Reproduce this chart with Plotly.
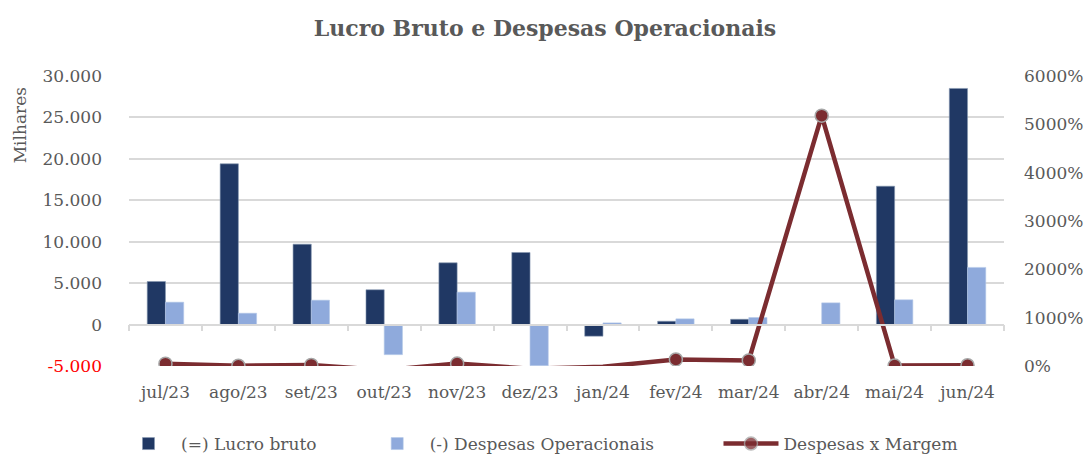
import plotly.graph_objects as go

categories = ["jul/23", "ago/23", "set/23", "out/23", "nov/23", "dez/23",
              "jan/24", "fev/24", "mar/24", "abr/24", "mai/24", "jun/24"]
lucro_bruto = [5200, 19400, 9700, 4200, 7450, 8700, -1400, 400, 640, 0, 16700, 28500]
despesas_op = [2700, 1370, 2940, -3630, 3910, -4960, 200, 690, 850, 2620, 2990, 6900]
despesas_x_margem = [48, 6, 22, -86, 50, -57, -14, 135, 115, 5180, 10, 16]

left_ticks = [-5000, 0, 5000, 10000, 15000, 20000, 25000, 30000]
left_ticktext = ["<span style='color:#FF0000'>-5.000</span>", "0", "5.000", "10.000",
                 "15.000", "20.000", "25.000", "30.000"]
right_ticks = [0, 1000, 2000, 3000, 4000, 5000, 6000]
right_ticktext = ["0%", "1000%", "2000%", "3000%", "4000%", "5000%", "6000%"]

FONT = "DejaVu Serif"
GRAY = "#595959"
FS = 17
NB = "\u00a0"

# Excel hides markers of points falling below the axis minimum
marker_opacity = [1 if v >= 0 else 0 for v in despesas_x_margem]

fig = go.Figure()
fig.add_trace(go.Bar(x=categories, y=lucro_bruto, name="(=) Lucro bruto" + NB * 8,
                     marker=dict(color="#203864", line=dict(color="#8497b0", width=0.6))))
fig.add_trace(go.Bar(x=categories, y=despesas_op, name="(-) Despesas Operacionais" + NB * 11,
                     marker=dict(color="#8FAADC", line=dict(color="#b4c7e7", width=0.6))))
fig.add_trace(go.Scatter(x=categories, y=despesas_x_margem, name="Despesas x Margem",
                         yaxis="y2", mode="lines+markers", cliponaxis=True,
                         line=dict(color="#7B2C30", width=4.5),
                         marker=dict(color="#7B2C30", size=13, opacity=marker_opacity,
                                     line=dict(color="#A6A6A6", width=1.5))))

# invisible helper trace for the category axis line drawn at zero
fig.add_trace(go.Scatter(x=categories, y=[0]*len(categories), xaxis="x2",
                         mode="none", showlegend=False, hoverinfo="skip"))

y0_frac = (0 - (-5000)) / (30000 - (-5000))

fig.update_layout(
    width=1090, height=455,
    paper_bgcolor="white", plot_bgcolor="white",
    margin=dict(l=129, r=86, t=76, b=89, autoexpand=False),
    title=dict(text="<b>Lucro Bruto e Despesas Operacionais</b>",
               x=0.5, xanchor="center", y=1 - 28/455, yanchor="middle",
               font=dict(family=FONT, size=22, color=GRAY)),
    font=dict(family=FONT, size=FS, color=GRAY),
    barmode="group", bargap=0.5, bargroupgap=0,
    xaxis=dict(type="category", showgrid=False, showline=False, ticks="",
               tickfont=dict(family=FONT, size=FS, color=GRAY),
               ticklabelstandoff=14, range=[-0.5, 11.5]),
    xaxis2=dict(type="category", overlaying="x", anchor="free", position=y0_frac,
                showticklabels=False, ticks="outside", tickson="boundaries",
                ticklen=6, tickcolor="#d9d9d9", tickwidth=1.5,
                showline=True, linecolor="#d9d9d9", linewidth=1.5,
                showgrid=False, range=[-0.5, 11.5]),
    yaxis=dict(range=[-5000, 30000], tickvals=left_ticks, ticktext=left_ticktext,
               showgrid=True, gridcolor="#d9d9d9", gridwidth=1.5, zeroline=False,
               tickfont=dict(family=FONT, size=FS, color=GRAY),
               ticklabelstandoff=26),
    yaxis2=dict(range=[0, 6000], overlaying="y", side="right",
                tickvals=right_ticks, ticktext=right_ticktext, showgrid=False,
                zeroline=False, tickfont=dict(family=FONT, size=FS, color=GRAY),
                ticklabelstandoff=19),
    legend=dict(orientation="h", xref="container", yref="container",
                x=116/1090, y=1 - 444/455, xanchor="left", yanchor="middle",
                font=dict(family=FONT, size=FS, color=GRAY),
                traceorder="normal", itemwidth=55),
    annotations=[dict(text="Milhares", textangle=-90, xref="paper", yref="paper",
                      x=-109/875, y=0.83, xanchor="center", yanchor="middle",
                      showarrow=False, font=dict(family=FONT, size=FS, color=GRAY))],
)

fig.write_html("out.html", config={"displayModeBar": False},
               post_script="document.body.style.margin='0';document.body.style.overflow='hidden';")
